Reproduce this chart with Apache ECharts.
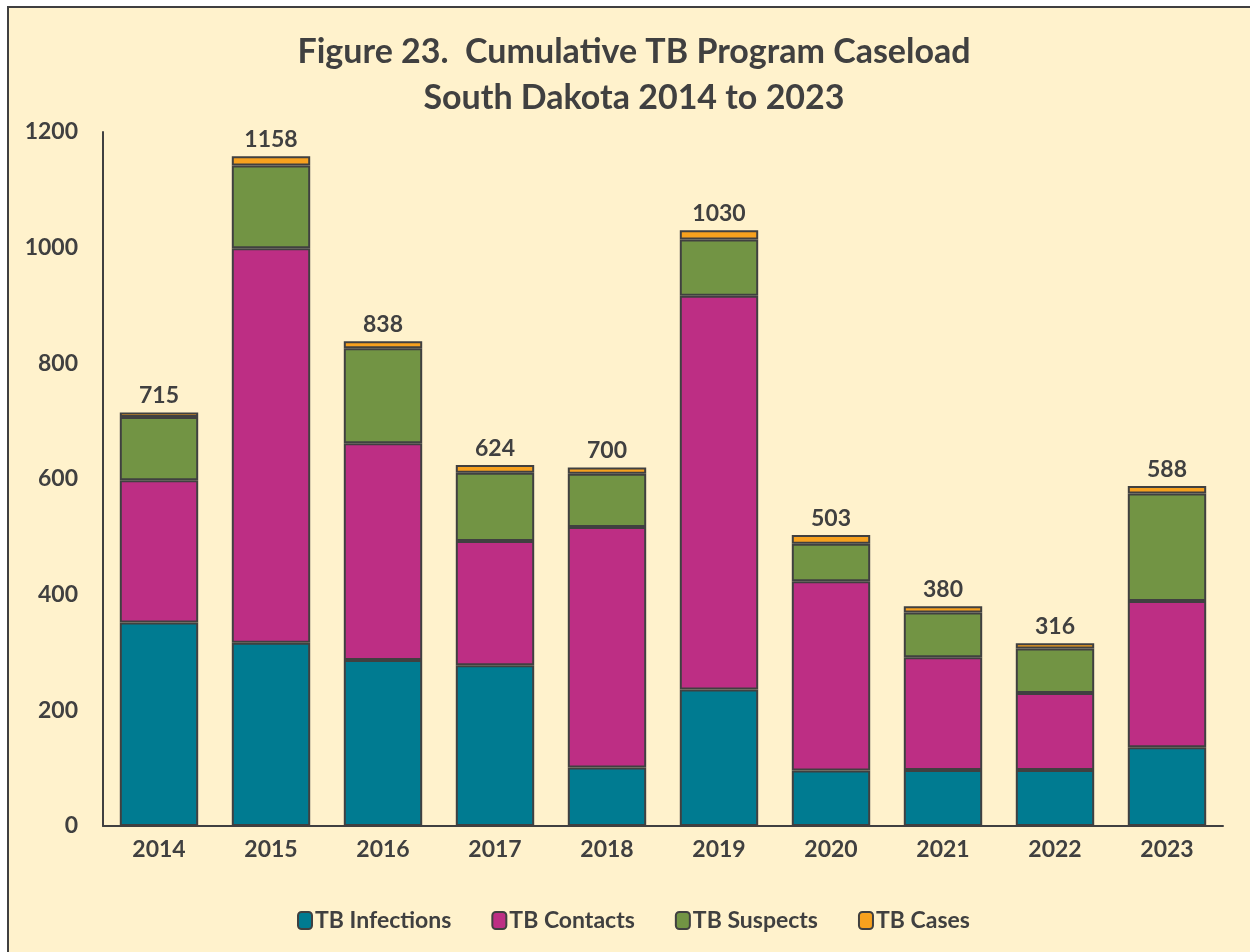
<!DOCTYPE html>
<html>
<head>
<meta charset="utf-8">
<script src="https://cdn.jsdelivr.net/npm/echarts@6/dist/echarts.min.js"></script>
<style>
    body { margin: 0; background: #ffffff; }
    #frame {
        position: absolute; left: 7px; top: 6px; width: 1250px; height: 952px;
        background: #fff2cc; border-left: 2px solid #404040; border-top: 2px solid #404040;
    }
    #chart { position: absolute; left: 0; top: 0; width: 1250px; height: 952px; }
</style>
</head>
<body>
<div id="frame"></div>
<div id="chart"></div>
<script type="text/javascript">
var years = ['2014', '2015', '2016', '2017', '2018', '2019', '2020', '2021', '2022', '2023'];
var infections = [352, 317, 287, 278, 101, 236, 96, 97, 97, 136];
var contacts = [246, 682, 375, 215, 416, 681, 327, 195, 133, 253];
var suspects = [109, 143, 164, 118, 92, 97, 65, 77, 77, 186];
var cases = [8, 16, 12, 13, 11, 16, 15, 11, 9, 13];
// labels shown above the bars (as printed in the figure)
var totals = [715, 1158, 838, 624, 700, 1030, 503, 380, 316, 588];
var yTicks = [0, 200, 400, 600, 800, 1000, 1200];

var textColor = '#404040';
var fontFamily = 'Lato, "Open Sans", sans-serif';

var chart = echarts.init(document.getElementById('chart'), null, { renderer: 'canvas' });

function barSeries(name, data, color) {
    return {
        name: name,
        type: 'bar',
        stack: 'total',
        data: data,
        barWidth: '70%',
        itemStyle: { color: color, borderColor: '#404040', borderWidth: 2 }
    };
}

var series = [
    barSeries('TB Infections', infections, '#007b91'),
    barSeries('TB Contacts', contacts, '#bd2e84'),
    barSeries('TB Suspects', suspects, '#729444'),
    barSeries('TB Cases', cases, '#f7a11e')
];
series[3].label = {
    show: true,
    position: 'top',
    distance: 5,
    color: textColor,
    fontFamily: fontFamily,
    fontWeight: 'bold',
    fontSize: 23,
    formatter: function (p) { return totals[p.dataIndex]; }
};

var option = {
    animation: false,
    textStyle: { fontFamily: fontFamily, color: textColor },
    title: {
        text: 'Figure 23.  Cumulative TB Program Caseload\nSouth Dakota 2014 to 2023',
        left: 629,
        top: 24,
        textAlign: 'center',
        textStyle: {
            fontFamily: fontFamily,
            fontSize: 34,
            fontWeight: 'bold',
            color: textColor,
            lineHeight: 46
        }
    },
    legend: {
        left: 292,
        top: 904,
        itemWidth: 14,
        itemHeight: 17,
        itemGap: 40,
        textStyle: { fontFamily: fontFamily, fontSize: 23, fontWeight: 'bold', color: textColor, padding: [0, 0, 0, -2] },
        data: ['TB Infections', 'TB Contacts', 'TB Suspects', 'TB Cases']
    },
    grid: { left: 103, right: 27, top: 132, bottom: 126 },
    xAxis: {
        type: 'category',
        data: years,
        axisLine: { lineStyle: { color: '#404040', width: 2 } },
        axisTick: { show: false },
        axisLabel: { color: textColor, fontFamily: fontFamily, fontWeight: 'bold', fontSize: 23, margin: 12 }
    },
    yAxis: {
        type: 'value',
        min: 0,
        max: 1200,
        interval: 200,
        axisLine: { show: true, lineStyle: { color: '#404040', width: 2 } },
        axisTick: { show: false },
        splitLine: { show: false },
        axisLabel: {
            color: textColor, fontFamily: fontFamily, fontWeight: 'bold', fontSize: 23, margin: 25,
            formatter: function (v) { return yTicks.indexOf(v) >= 0 ? v : ''; }
        }
    },
    series: series
};

chart.setOption(option);
</script>
</body>
</html>
